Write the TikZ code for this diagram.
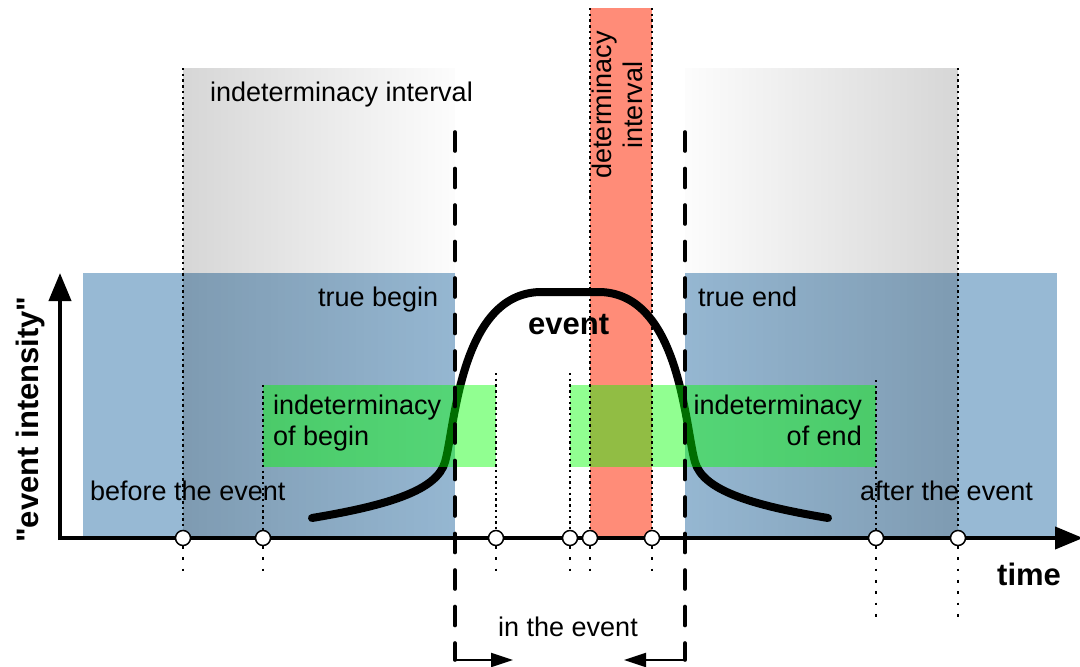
\documentclass[tikz,border=0pt]{standalone}
\usepackage{fontspec}
\setmainfont{Liberation Sans}[Ligatures=TeXOff]
\usetikzlibrary{arrows.meta,fadings}

% soft shadow that darkens whatever lies below it
\tikzfading[name=shadeleft, left color=transparent!84, right color=transparent!99]
\tikzfading[name=shaderight, left color=transparent!99, right color=transparent!84]

\definecolor{bandblue}{RGB}{151,185,212}
\definecolor{bandred}{RGB}{255,140,120}

\begin{document}
\begin{tikzpicture}[x=1pt,y=-1pt,
  lbl/.style={font=\fontsize{27}{31}\selectfont, inner sep=0pt},
  boldlbl/.style={font=\fontsize{31}{35}\selectfont\bfseries, inner sep=0pt},
  dotline/.style={line width=2.4pt, dash pattern=on 2.4pt off 3.3pt},
  sparsedot/.style={line width=2.4pt, dash pattern=on 2.8pt off 8.5pt},
  bounddash/.style={line width=3.6pt, line cap=round, dash pattern=on 19pt off 17.5pt},
  bendarrow/.style={line width=2pt, -{Triangle[length=22pt,width=14pt]}},
  tickmark/.style={circle, draw, fill=white, line width=1.5pt, minimum size=15pt, inner sep=0pt},
  greenband/.style={fill=green, fill opacity=0.43},
  axisline/.style={line width=4pt, -{Triangle[length=28pt,width=22pt]}},
  eventcurve/.style={line width=8pt, line cap=round}
]
\useasboundingbox (0,0) rectangle (1080,667);

% phases before / after the event
\fill[bandblue] (83,273) rectangle (455,537);
\fill[bandblue] (685,273) rectangle (1057,537);

% indeterminacy intervals (gradient shadows)
\fill[black, path fading=shadeleft] (183,68) rectangle (455,537);
\fill[black, path fading=shaderight] (685,68) rectangle (958,537);

% determinacy interval
\fill[bandred] (590,8) rectangle (652,537);

% event intensity curve
\draw[eventcurve] (312,518) .. controls (390,505) and (437,490) .. (445,462)
  .. controls (455,428) and (460,294) .. (540,292) -- (600,292)
  .. controls (680,294) and (685,428) .. (695,462)
  .. controls (703,490) and (750,505) .. (828,518);

% indeterminacy of begin / end
\fill[greenband] (263,385) rectangle (496,467);
\fill[greenband] (570,385) rectangle (876,467);

% time points: dotted guides
\coordinate (o) at (60,538);
\foreach \px/\top/\bot in {183/68/578, 263/385/578, 496/373/578, 570/373/578,
                           590/8/578, 652/8/578, 876/380/620, 958/68/620}{
  \draw[dotline] (\px,\top) -- (\px,538);
  \draw[sparsedot] (\px,546) -- (\px,\bot);
}

% true begin / true end boundaries
\coordinate (tb top) at (455,132);
\coordinate (tb bot) at (455,660);
\coordinate (te top) at (685,132);
\coordinate (te bot) at (685,660);
\coordinate (tb arr) at (513,660);
\coordinate (te arr) at (624,660);
\draw[bounddash] (tb top) -- (tb bot);
\draw[bounddash] (te top) -- (te bot);
\draw[line width=3.6pt] (455,645) -- (tb bot);
\draw[line width=3.6pt] (685,645) -- (te bot);
\draw[bendarrow] (tb bot) -- (tb arr);
\draw[bendarrow] (te bot) -- (te arr);

% axes
\coordinate (xend) at (1083,538);
\coordinate (yend) at (60,273);
\draw[axisline] (o) -- (xend);
\draw[axisline, line cap=butt] ([yshift=-2pt]o) -- (yend);

% time point markers
\foreach \px [count=\i] in {183,263,496,570,590,652,876,958}
  \node[tickmark] (t\i) at (\px,538) {};

% labels
\node[lbl, anchor=base west] (lintv) at (210,101) {indeterminacy interval};
\node[lbl, anchor=center, rotate=90, align=center] (ldet) at (617,105) {determinacy\\interval};
\node[lbl, anchor=base west] (ltb) at (318,306) {true begin};
\node[lbl, anchor=base west] (lte) at (698,306) {true end};
\node[boldlbl, anchor=base west] (lev) at (528,334) {event};
\node[lbl, anchor=base west] (lib1) at (273,414) {indeterminacy};
\node[lbl, anchor=base west] (lib2) at (273,445) {of begin};
\node[lbl, anchor=base east] (lie1) at (862,414) {indeterminacy};
\node[lbl, anchor=base east] (lie2) at (862,445) {of end};
\node[lbl, anchor=base west] (lbef) at (90,500) {before the event};
\node[lbl, anchor=base west] (laft) at (860,500) {after the event};
\node[lbl, anchor=base west] (lin) at (498,636) {in the event};
\node[boldlbl, anchor=base west] (ltime) at (997,585) {time};
\node[boldlbl, anchor=base west, rotate=90] (lint) at (38,543) {"event intensity"};
\end{tikzpicture}
\end{document}
